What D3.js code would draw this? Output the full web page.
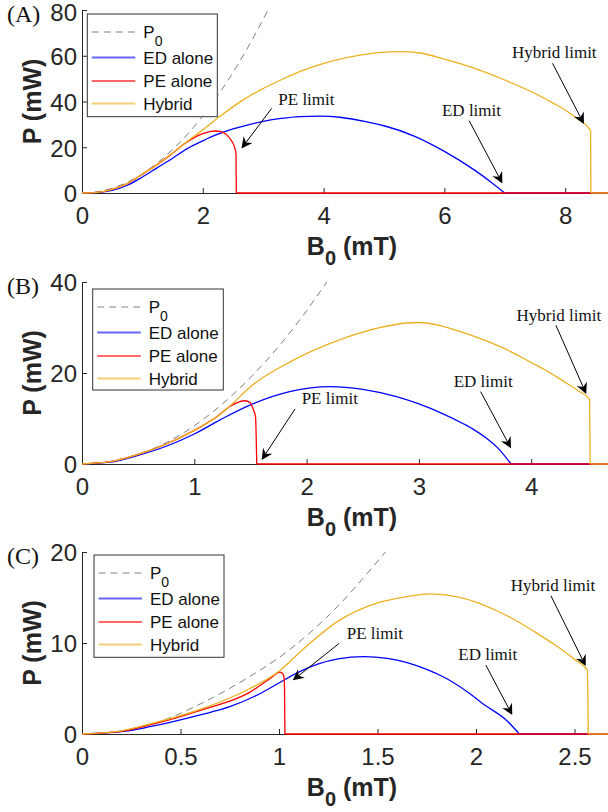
<!DOCTYPE html>
<html><head><meta charset="utf-8">
<script src="https://cdn.jsdelivr.net/npm/d3@7"></script>
<style>body{margin:0;background:#fff}</style>
</head><body>
<svg id="c" width="608" height="812"></svg>
<script>
// ---------------- DATA (B0 in mT, P in mW) ----------------
// Panel A
const p0A = [[0,0],[0.25,0.5],[0.5,2.1],[0.75,4.7],[1,8.4],[1.25,13.2],[1.5,19],[1.75,25.8],[2,33.7],[2.25,42.7],[2.5,52.7],[2.75,63.8],[3.08,80]];
const edA = [[0,0],[0.25,0.2],[0.5,1.1],[0.75,3.4],[1.0,7.0],[1.25,11.1],[1.5,15.2],[1.75,19.5],[2.0,22.8],[2.25,25.7],[2.5,28.0],[2.75,29.8],[3.0,31.3],[3.3,32.6],[3.61,33.4],[3.94,33.6],[4.3,33.0],[4.7,31.2],[5.0,29.4],[5.5,24.9],[6.0,18.2],[6.5,10.0],[6.8,4.2],[7.0,0],[8.75,0]];
const peA = [[0,0],[0.25,0.3],[0.5,1.6],[0.75,4.1],[1.0,8.2],[1.25,12.5],[1.5,17.4],[1.75,22.5],[2.0,26],[2.2,27.1],[2.3,26.8],[2.4,25.3],[2.47,23],[2.52,20.5],[2.55,17],[2.555,0],[8.75,0]];
const hyA = [[0,0],[0.25,0.3],[0.5,1.6],[0.75,4.1],[1.0,8.2],[1.25,12.5],[1.5,17.5],[1.75,22.7],[2.0,27.6],[2.28,33.4],[2.6,39.5],[2.95,45],[3.3,49.5],[3.68,53.8],[4.1,57.4],[4.6,60.3],[5.25,61.8],[5.6,61.2],[6.0,58.5],[6.5,54.5],[7.0,49.4],[7.5,43.5],[7.8,39.3],[8.0,36.3],[8.2,32.5],[8.42,27.2],[8.425,0],[8.75,0]];
// Panel B
const p0B = [[0,0],[0.25,0.53],[0.5,2.1],[0.75,4.7],[1,8.4],[1.25,13.2],[1.5,19],[1.75,25.8],[2,33.7],[2.18,40]];
const edB = [[0,0],[0.25,0.4],[0.5,1.9],[0.75,3.9],[1.0,6.6],[1.23,9.7],[1.5,13],[1.85,15.9],[2.21,17],[2.5,16.4],[2.8,14.8],[3.0,13.2],[3.2,11.2],[3.4,8.8],[3.5,7.4],[3.6,5.7],[3.7,3.6],[3.82,0],[4.7,0]];
const peB = [[0,0],[0.25,0.5],[0.5,2.1],[0.75,4.4],[1.0,7.4],[1.2,10.4],[1.32,12.7],[1.45,13.9],[1.5,13.4],[1.52,12.3],[1.545,10.4],[1.556,0],[4.7,0]];
const hyB = [[0,0],[0.25,0.5],[0.5,2.1],[0.75,4.4],[1.0,7.4],[1.2,10.4],[1.32,12.8],[1.5,17],[1.85,22.4],[2.21,26.5],[2.5,29],[2.98,31.1],[3.5,28.0],[3.76,25.4],[4.0,22.3],[4.15,20.3],[4.3,18],[4.42,16.1],[4.52,14.2],[4.525,0],[4.7,0]];
// Panel C
const p0C = [[0,0],[0.2,0.34],[0.4,1.4],[0.6,3.3],[0.85,6.3],[1.0,8.4],[1.107,10.2],[1.31,14.3],[1.45,17.7],[1.54,20]];
const edC = [[0,0],[0.2,0.25],[0.345,0.8],[0.6,2.1],[0.75,3.0],[0.9,4.4],[1.0,5.6],[1.1,6.8],[1.2,7.7],[1.3,8.25],[1.43,8.5],[1.55,8.3],[1.65,7.84],[1.75,7.1],[1.85,6.1],[1.95,4.73],[2.05,3.1],[2.15,1.6],[2.22,0],[2.68,0]];
const peC = [[0,0],[0.2,0.3],[0.345,1.0],[0.6,2.6],[0.853,4.6],[0.955,6.1],[1.005,6.8],[1.02,6.6],[1.027,6.0],[1.03,0],[2.68,0]];
const hyC = [[0,0],[0.2,0.35],[0.345,1.1],[0.6,2.7],[0.853,5.0],[1.0,6.9],[1.127,9.4],[1.3,12.4],[1.5,14.4],[1.65,15.1],[1.77,15.4],[1.9,15.1],[2.0,14.5],[2.1,13.6],[2.2,12.5],[2.3,11.2],[2.4,9.8],[2.5,8.2],[2.565,7.0],[2.57,0],[2.68,0]];

// Tick values
const xTicksA = [0,2,4,6,8],   yTicksA = [0,20,40,60,80];
const xTicksB = [0,1,2,3,4],   yTicksB = [0,20,40];
const xTicksC = [0,0.5,1,1.5,2,2.5], yTicksC = [0,10,20];

// Legend / annotation texts
const legendNames = ["P0","ED alone","PE alone","Hybrid"];
const panelLabels = ["(A)","(B)","(C)"];
// annotations: [text, textX, textY, arrowFromX, arrowFromY, tipX, tipY] in data units
const annA = [["PE limit",3.25,38.5,3.14,37.0,2.64,19.5],["ED limit",5.96,33.8,6.41,31.6,6.96,4.2],["Hybrid limit",7.12,58.9,7.79,56.7,8.31,30.2]];
const annB = [["PE limit",1.956,13.2,1.897,12.1,1.60,0.9],["ED limit",3.31,17.0,3.55,15.9,3.82,3.45],["Hybrid limit",3.87,31.5,4.22,30.5,4.49,15.4]];
const annC = [["PE limit",1.344,10.4,1.305,9.95,1.07,5.9],["ED limit",1.91,8.1,2.05,7.57,2.184,2.08],["Hybrid limit",2.176,15.7,2.38,15.2,2.557,7.46]];

// ---------------- LAYOUT ----------------
const colors = {p0:"#808080", ed:"#0000ff", pe:"#ff0000", hy:"#EDB120"};
const panels = [
  {label:panelLabels[0], xMax:8.75, ppu:60.4, yMax:80, top:10, bottom:193, xt:xTicksA, yt:yTicksA, fmt:d3.format("d"),
   s:[p0A,edA,peA,hyA], ann:annA, leg:{x:87.3,y:14,w:130,h:102.7}},
  {label:panelLabels[1], xMax:4.7, ppu:112.3, yMax:40, top:282, bottom:464, xt:xTicksB, yt:yTicksB, fmt:d3.format("d"),
   s:[p0B,edB,peB,hyB], ann:annB, leg:{x:92.7,y:289,w:130.6,h:101}},
  {label:panelLabels[2], xMax:2.68, ppu:197, yMax:20, top:552, bottom:734, xt:xTicksC, yt:yTicksC, fmt:d => String(d),
   s:[p0C,edC,peC,hyC], ann:annC, leg:{x:94,y:555,w:130,h:102.3}}
];

const svg = d3.select("#c");
const axisCol = "#262626";
const left = 82;
const sans = "Liberation Sans, Arial, sans-serif";
const serif = "Liberation Serif, Times New Roman, serif";

panels.forEach((p,pi) => {
  const x = d3.scaleLinear().domain([0,p.xMax]).range([left, left + p.xMax*p.ppu]);
  const y = d3.scaleLinear().domain([0,p.yMax]).range([p.bottom, p.top]);
  const g = svg.append("g");

  // axes (ticks inward)
  const ya = g.append("g").attr("transform",`translate(${left},0)`)
    .call(d3.axisLeft(y).tickValues(p.yt).tickSizeInner(-5).tickSizeOuter(0).tickPadding(5).tickFormat(p.fmt));
  const xa = g.append("g").attr("transform",`translate(0,${p.bottom})`)
    .call(d3.axisBottom(x).tickValues(p.xt).tickSizeInner(-5).tickSizeOuter(0).tickPadding(13).tickFormat(p.fmt));
  [ya,xa].forEach(a => {
    a.select(".domain").attr("stroke",axisCol).attr("stroke-width",1);
    a.selectAll(".tick line").attr("stroke",axisCol);
    a.selectAll(".tick text").attr("fill","#262626").attr("font-family",sans).attr("font-size",24);
  });
  xa.selectAll(".tick text").attr("dy","0.75em");
  ya.selectAll(".tick text").attr("dy","0.37em");
  if (pi===0) ya.selectAll(".tick text").filter(d => d===p.yMax).attr("dy","0.45em");

  // axis labels
  const xl = g.append("text").attr("x",352).attr("y",p.bottom+62).attr("text-anchor","middle")
    .attr("font-family",sans).attr("font-weight","bold").attr("font-size",25).attr("fill","#262626");
  xl.append("tspan").text("B");
  xl.append("tspan").attr("dy",10).attr("font-size",20).text("0");
  xl.append("tspan").attr("dy",-10).text(" (mT)");

  g.append("text").attr("transform",`translate(41,${(p.top+p.bottom)/2}) rotate(-90)`).attr("text-anchor","middle")
    .attr("font-family",sans).attr("font-weight","bold").attr("font-size",25).attr("fill","#262626")
    .text("P (mW)");

  // panel label
  g.append("text").attr("x",7).attr("y",p.top+12).attr("font-family",serif)
    .attr("font-size",24).attr("fill","#111").text(p.label);

  // series: smooth part up to the limit point, straight zero tail after it
  const smooth = d3.line().x(d=>x(d[0])).y(d=>y(d[1])).curve(d3.curveMonotoneX);
  const straight = d3.line().x(d=>x(d[0])).y(d=>y(d[1]));
  const keys = ["p0","ed","pe","hy"];
  p.s.forEach((data,i) => {
    let k = data.findIndex((d,j) => j>0 && d[1]===0 && data[j-1][1]>0);
    const parts = k<0 ? [[data,smooth]] : [[data.slice(0,k+1),smooth],[data.slice(k),straight]];
    parts.forEach(([seg,gen]) => {
      g.append("path").datum(seg).attr("d",gen).attr("fill","none")
        .attr("stroke",colors[keys[i]]).attr("stroke-width", i===0?1:1.3)
        .attr("stroke-dasharray", i===0?"7,5":null);
    });
  });

  // legend
  const L = p.leg;
  const lg = g.append("g");
  lg.append("rect").attr("x",L.x).attr("y",L.y).attr("width",L.w).attr("height",L.h)
    .attr("fill","#fff").attr("stroke","#333").attr("stroke-width",1);
  const rowY = [18,43.5,67,89.5];
  legendNames.forEach((nm,i) => {
    const yy = L.y + rowY[i];
    lg.append("line").attr("x1",L.x+4.5).attr("x2",L.x+48).attr("y1",yy).attr("y2",yy)
      .attr("stroke",colors[keys[i]]).attr("stroke-width",i===0?1:2).attr("stroke-opacity",i===0?1:0.6)
      .attr("stroke-dasharray",i===0?"7,5":null);
    const t = lg.append("text").attr("x",L.x+56).attr("y",yy+6).attr("font-family",sans)
      .attr("font-size",17).attr("fill","#111");
    if (i===0) {
      t.append("tspan").text("P");
      t.append("tspan").attr("dy",8).attr("font-size",14).text("0");
    } else t.text(nm);
  });

  // annotations
  p.ann.forEach(a => {
    g.append("text").attr("x",x(a[1])).attr("y",y(a[2])).attr("font-family",serif)
      .attr("font-size",17).attr("fill","#111").text(a[0]);
    const x1=x(a[3]), y1=y(a[4]), x2=x(a[5]), y2=y(a[6]);
    const dx=x2-x1, dy=y2-y1, len=Math.hypot(dx,dy), ux=dx/len, uy=dy/len, nx=-uy, ny=ux;
    const Lh=11, W=5.5, notch=7.5;
    g.append("line").attr("x1",x1).attr("y1",y1).attr("x2",x2-ux*notch).attr("y2",y2-uy*notch)
      .attr("stroke","#000").attr("stroke-width",1);
    const pts = [[x2,y2],[x2-ux*Lh+nx*W,y2-uy*Lh+ny*W],[x2-ux*notch,y2-uy*notch],[x2-ux*Lh-nx*W,y2-uy*Lh-ny*W]];
    g.append("path").attr("d","M"+pts.map(q=>q.join(",")).join("L")+"Z").attr("fill","#000");
  });
});
</script>
</body></html>
